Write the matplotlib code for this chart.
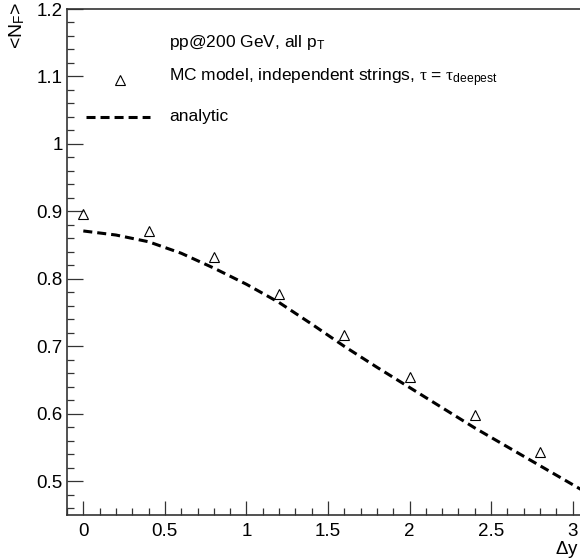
# <N_F> vs rapidity gap: MC model points and analytic curve

import matplotlib
matplotlib.use('Agg')
import matplotlib.pyplot as plt
from matplotlib.ticker import MultipleLocator, FormatStrFormatter
from matplotlib.lines import Line2D

plt.rcParams['font.family'] = ['Liberation Sans', 'DejaVu Sans']
plt.rcParams['mathtext.fontset'] = 'custom'
plt.rcParams['mathtext.rm'] = 'Liberation Sans'
plt.rcParams['mathtext.it'] = 'Liberation Serif'
plt.rcParams['lines.scale_dashes'] = False

# MC model, independent strings
mc_dy = [0.0, 0.4, 0.8, 1.2, 1.6, 2.0, 2.4, 2.8]
mc_nf = [0.896, 0.871, 0.833, 0.777, 0.717, 0.655, 0.598, 0.544]

# analytic curve
an_dy = [0.0, 0.2, 0.4, 0.6, 0.8, 1.0, 1.2, 1.4, 1.6, 1.8, 2.0, 2.2, 2.4,
         2.6, 2.8, 3.05]
an_nf = [0.871, 0.865, 0.855, 0.838, 0.816, 0.792, 0.765, 0.733, 0.700,
         0.669, 0.639, 0.609, 0.579, 0.551, 0.523, 0.488]

fig = plt.figure(figsize=(5.8, 5.6), dpi=100)
# frame runs past the right edge, like the reference
ax = fig.add_axes([67 / 580, 45 / 560, 522 / 580, 506 / 560])

ax.plot(an_dy, an_nf, color='k', lw=2.2, dashes=(6.5, 3.6))
ax.plot(mc_dy, mc_nf, ls='none', marker='^', ms=7.5, mfc='none',
        mec='k', mew=0.8)

ax.set_xlim(-0.1, 3.1)
ax.set_ylim(0.45, 1.2)
ax.xaxis.set_major_locator(MultipleLocator(0.5))
ax.xaxis.set_minor_locator(MultipleLocator(0.1))
ax.yaxis.set_major_locator(MultipleLocator(0.1))
ax.yaxis.set_minor_locator(MultipleLocator(0.02))
ax.xaxis.set_major_formatter(FormatStrFormatter('%g'))
ax.yaxis.set_major_formatter(FormatStrFormatter('%g'))
ax.tick_params(which='both', direction='in', top=False, right=False,
               labelsize=13.5, width=0.9, color='#333333')
ax.tick_params(axis='x', which='major', length=10, pad=6)
ax.tick_params(axis='x', which='minor', length=5)
ax.tick_params(axis='y', which='major', length=11.5, pad=3)
ax.tick_params(axis='y', which='minor', length=5)
for s in ax.spines.values():
    s.set_linewidth(1.2)
    s.set_color('#333333')

# axis titles
fig.text(17 / 580, 1 - 2 / 560, r'<N$_{\rm F}$>', rotation=90,
         ha='center', va='top', fontsize=14)
fig.text(579 / 580, 1 - 550 / 560, r'$\Delta$y', ha='right',
         va='center', fontsize=13.5)

# legend drawn by hand, ROOT style
fs = 12.5
fig.text(169 / 580, 1 - 43 / 560, r'pp@200 GeV, all p$_{\rm T}$',
         ha='left', va='center', fontsize=fs)
fig.text(169 / 580, 1 - 78 / 560,
         r'MC model, independent strings, $\tau$ = $\tau_{\rm deepest}$',
         ha='left', va='center', fontsize=fs)
fig.text(169 / 580, 1 - 117 / 560, 'analytic', ha='left', va='center',
         fontsize=fs)
fig.add_artist(Line2D([120 / 580], [1 - 80 / 560], ls='none', marker='^',
                      ms=7.5, mfc='none', mec='k', mew=0.8,
                      transform=fig.transFigure))
fig.add_artist(Line2D([86 / 580, 150 / 580], [1 - 117 / 560] * 2,
                      color='k', lw=2.2, dashes=(6.5, 3.6),
                      transform=fig.transFigure))

fig.savefig('out.png', dpi=100)
